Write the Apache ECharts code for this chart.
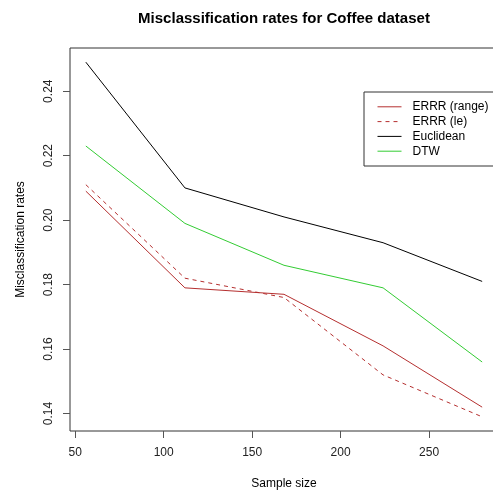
<!DOCTYPE html>
<html>
<head>
<meta charset="utf-8">
<script src="https://cdn.jsdelivr.net/npm/echarts@6/dist/echarts.min.js"></script>
<style>
  html, body { margin: 0; padding: 0; background: #fff; }
  #chart { width: 493px; height: 491px; }
</style>
</head>
<body>
<div id="chart"></div>
<script>
// Sample sizes (training set sizes) on the x axis
const sampleSizes = [56, 112, 168, 224, 280];

// Misclassification rate per method
const errrRange = [0.209, 0.179, 0.177, 0.161, 0.142];
const errrLe    = [0.211, 0.182, 0.176, 0.152, 0.139];
const euclidean = [0.249, 0.210, 0.201, 0.193, 0.181];
const dtw       = [0.223, 0.199, 0.186, 0.179, 0.156];

// Tick labels
const xTicks = [50, 100, 150, 200, 250];
const yTicks = [0.14, 0.16, 0.18, 0.20, 0.22, 0.24];

const seriesNames = ['ERRR (range)', 'ERRR (le)', 'Euclidean', 'DTW'];

// Axis limits padded by 4% on each side of the data range
function padRange(vals) {
  const lo = Math.min(...vals), hi = Math.max(...vals);
  const d = (hi - lo) * 0.04;
  return [lo - d, hi + d];
}
const xLim = padRange(sampleSizes);
const yLim = padRange([...errrRange, ...errrLe, ...euclidean, ...dtw]);

const pairs = ys => sampleSizes.map((x, i) => [x, ys[i]]);

const FONT = '"Liberation Sans", Arial, sans-serif';

function lineSeries(name, ys, color, dashed) {
  return {
    name: name,
    type: 'line',
    data: pairs(ys),
    symbol: 'none',
    silent: true,
    animation: false,
    lineStyle: { color: color, width: 1, type: dashed ? [4, 4] : 'solid' },
    itemStyle: { color: color }
  };
}

const chart = echarts.init(document.getElementById('chart'), null, { renderer: 'canvas' });

chart.setOption({
  backgroundColor: '#ffffff',
  animation: false,
  grid: {
    left: 70, top: 48, right: -5, bottom: 60,
    outerBoundsMode: 'none',
    containLabel: false,
    show: true, borderColor: '#333', borderWidth: 1,
    backgroundColor: 'transparent'
  },
  graphic: [{
    type: 'text',
    x: 284, y: 19,
    style: {
      text: 'Misclassification rates for Coffee dataset',
      font: 'bold 15px ' + FONT,
      fill: '#000',
      textAlign: 'center',
      textVerticalAlign: 'middle'
    }
  }],
  legend: {
    orient: 'vertical',
    left: 364, top: 92,
    data: seriesNames,
    itemWidth: 24, itemHeight: 14, itemGap: 0.8,
    padding: [7.8, 9, 7.8, 13],
    borderColor: '#333', borderWidth: 1,
    backgroundColor: '#fff',
    selectedMode: false,
    itemStyle: { opacity: 0, borderWidth: 0 },
    lineStyle: { width: 1 },
    textStyle: { fontFamily: FONT, fontSize: 12, color: '#000', lineHeight: 14, padding: [0, 0, 0, 6] }
  },
  xAxis: {
    type: 'value',
    min: xLim[0], max: xLim[1],
    name: 'Sample size',
    nameLocation: 'middle',
    nameGap: 47,
    nameTextStyle: { fontFamily: FONT, fontSize: 12, color: '#000' },
    splitLine: { show: false },
    axisLine: { show: false },
    axisTick: { show: true, inside: false, length: 7, customValues: xTicks, lineStyle: { color: '#555', width: 1 } },
    axisLabel: { customValues: xTicks, margin: 16, fontFamily: FONT, fontSize: 12, color: '#222',
                 formatter: v => String(v) }
  },
  yAxis: {
    type: 'value',
    min: yLim[0], max: yLim[1],
    name: 'Misclassification rates',
    nameLocation: 'middle',
    nameRotate: 90,
    nameGap: 43,
    nameTextStyle: { fontFamily: FONT, fontSize: 12, color: '#000' },
    splitLine: { show: false },
    axisLine: { show: false },
    axisTick: { show: true, inside: false, length: 7, customValues: yTicks, lineStyle: { color: '#555', width: 1 } },
    axisLabel: { customValues: yTicks, rotate: 90, margin: 15, fontFamily: FONT, fontSize: 12, color: '#222',
                 formatter: v => v.toFixed(2) }
  },
  series: [
    lineSeries(seriesNames[0], errrRange, '#b52f2f', false),
    lineSeries(seriesNames[1], errrLe, '#b52f2f', true),
    lineSeries(seriesNames[2], euclidean, '#000000', false),
    lineSeries(seriesNames[3], dtw, '#33cc33', false)
  ]
});
</script>
</body>
</html>
